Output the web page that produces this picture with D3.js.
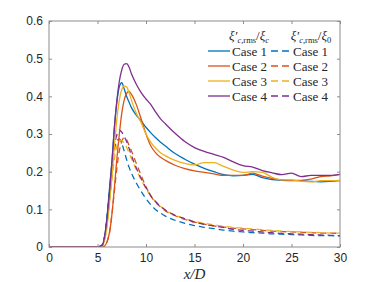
<!DOCTYPE html>
<meta charset="UTF-8">
<style>
  body { margin: 0; background: #fff; }
  .tick text { font: 12px "Liberation Sans", Arial, sans-serif; fill: #262626; }
</style>
<body>
<script src="https://cdn.jsdelivr.net/npm/d3@7"></script>
<script>
// x/D sample positions shared by all curves
var xGrid = [0, 5, 5.5, 5.75, 6, 6.25, 6.5, 6.75, 7, 7.25, 7.5, 7.75, 8, 8.25, 8.5, 9, 9.5, 10, 10.5, 11, 11.5, 12,
  13, 14, 15, 16, 17, 18, 19, 20, 21, 22, 23, 24, 25, 26, 27, 28, 29, 30];

// xi'_c,rms / xi_c  (solid)
var solid1 = [0, 0, 0.005, 0.03, 0.085, 0.16, 0.23, 0.32, 0.385, 0.425, 0.436, 0.42, 0.40, 0.385, 0.37, 0.35, 0.335, 0.318, 0.303, 0.29, 0.278, 0.268,
  0.248, 0.233, 0.22, 0.209, 0.2, 0.192, 0.189, 0.19, 0.193, 0.184, 0.179, 0.177, 0.176, 0.176, 0.174, 0.173, 0.174, 0.176];
var solid2 = [0, 0, 0, 0.003, 0.015, 0.04, 0.09, 0.16, 0.235, 0.30, 0.355, 0.39, 0.408, 0.413, 0.405, 0.378, 0.34, 0.3, 0.268, 0.25, 0.238, 0.23,
  0.217, 0.208, 0.202, 0.198, 0.194, 0.19, 0.19, 0.19, 0.196, 0.188, 0.182, 0.178, 0.177, 0.177, 0.18, 0.187, 0.189, 0.193];
var solid3 = [0, 0, 0.003, 0.02, 0.06, 0.12, 0.19, 0.27, 0.34, 0.39, 0.418, 0.427, 0.425, 0.41, 0.39, 0.355, 0.33, 0.3, 0.278, 0.262, 0.25, 0.242,
  0.23, 0.222, 0.218, 0.224, 0.224, 0.214, 0.204, 0.198, 0.2, 0.198, 0.185, 0.178, 0.178, 0.174, 0.173, 0.176, 0.176, 0.177];
var solid4 = [0, 0, 0.005, 0.03, 0.08, 0.15, 0.23, 0.32, 0.39, 0.44, 0.47, 0.485, 0.487, 0.478, 0.46, 0.432, 0.41, 0.393, 0.378, 0.358, 0.34, 0.327,
  0.302, 0.28, 0.264, 0.254, 0.246, 0.238, 0.226, 0.216, 0.212, 0.203, 0.197, 0.192, 0.196, 0.187, 0.19, 0.19, 0.19, 0.193];

// xi'_c,rms / xi_0  (dashed)
var dashed1 = [0, 0, 0.005, 0.03, 0.085, 0.155, 0.215, 0.26, 0.282, 0.287, 0.275, 0.255, 0.232, 0.212, 0.196, 0.17, 0.148, 0.128, 0.112, 0.099, 0.09, 0.082,
  0.071, 0.063, 0.057, 0.052, 0.049, 0.045, 0.042, 0.04, 0.038, 0.037, 0.035, 0.034, 0.033, 0.032, 0.031, 0.03, 0.03, 0.029];
var dashed2 = [0, 0, 0, 0.003, 0.015, 0.04, 0.09, 0.15, 0.21, 0.255, 0.28, 0.29, 0.285, 0.27, 0.255, 0.222, 0.19, 0.16, 0.135, 0.118, 0.106, 0.096,
  0.083, 0.073, 0.066, 0.061, 0.056, 0.053, 0.05, 0.048, 0.046, 0.044, 0.042, 0.041, 0.04, 0.039, 0.038, 0.037, 0.037, 0.036];
var dashed3 = [0, 0, 0.003, 0.02, 0.06, 0.12, 0.18, 0.235, 0.268, 0.282, 0.283, 0.275, 0.265, 0.25, 0.235, 0.205, 0.178, 0.155, 0.135, 0.12, 0.108, 0.098,
  0.085, 0.075, 0.068, 0.063, 0.059, 0.055, 0.052, 0.05, 0.048, 0.046, 0.044, 0.042, 0.041, 0.04, 0.039, 0.038, 0.037, 0.037];
var dashed4 = [0, 0, 0.005, 0.03, 0.08, 0.15, 0.22, 0.27, 0.298, 0.31, 0.305, 0.293, 0.28, 0.262, 0.243, 0.21, 0.182, 0.157, 0.136, 0.12, 0.108, 0.098,
  0.084, 0.075, 0.066, 0.06, 0.056, 0.052, 0.047, 0.044, 0.042, 0.04, 0.038, 0.036, 0.035, 0.034, 0.033, 0.032, 0.031, 0.03];

var caseNames = ["Case 1", "Case 2", "Case 3", "Case 4"];
var colors = ["#0072BD", "#D95319", "#EDB120", "#7E2F8E"];
var xTicks = [0, 5, 10, 15, 20, 25, 30];
var yTicks = [0, 0.1, 0.2, 0.3, 0.4, 0.5, 0.6];

var solids = [solid1, solid2, solid3, solid4];
var dasheds = [dashed1, dashed2, dashed3, dashed4];

var width = 376, height = 282;
var margin = {top: 21, right: 36, bottom: 35, left: 49};
var serif = "'Liberation Serif', 'Times New Roman', serif";

var svg = d3.select("body").append("svg")
  .attr("width", width)
  .attr("height", height);

var x = d3.scaleLinear().domain([0, 30]).range([margin.left, width - margin.right]);
var y = d3.scaleLinear().domain([0, 0.6]).range([height - margin.bottom, margin.top]);

// clip to plot box
svg.append("clipPath").attr("id", "clip")
  .append("rect")
  .attr("x", x(0)).attr("y", y(0.6))
  .attr("width", x(30) - x(0)).attr("height", y(0) - y(0.6));

var line = d3.line()
  .x(function(d) { return x(d[0]); })
  .y(function(d) { return y(d[1]); })
  .curve(d3.curveMonotoneX);

var plot = svg.append("g").attr("clip-path", "url(#clip)");

// dashed first, then solid on top
dasheds.forEach(function(vals, i) {
  plot.append("path")
    .datum(xGrid.map(function(xv, k) { return [xv, vals[k]]; }))
    .attr("d", line)
    .attr("fill", "none")
    .attr("stroke", colors[i])
    .attr("stroke-width", 1.3)
    .attr("stroke-dasharray", "6,4");
});
solids.forEach(function(vals, i) {
  plot.append("path")
    .datum(xGrid.map(function(xv, k) { return [xv, vals[k]]; }))
    .attr("d", line)
    .attr("fill", "none")
    .attr("stroke", colors[i])
    .attr("stroke-width", 1.3);
});

// axes, ticks pointing inward, mirrored on top/right
var axisColor = "#8c8c8c";
function styleAxis(g) {
  g.selectAll(".domain").remove();
  g.selectAll(".tick line").attr("stroke", axisColor);
}
svg.append("g")
  .attr("transform", "translate(0," + y(0) + ")")
  .call(d3.axisBottom(x).tickValues(xTicks).tickSize(-3).tickPadding(6).tickFormat(d3.format("d")))
  .call(styleAxis);
svg.append("g")
  .attr("transform", "translate(" + x(0) + ",0)")
  .call(d3.axisLeft(y).tickValues(yTicks).tickSize(-3).tickPadding(6).tickFormat(function(d) { return d === 0 ? "0" : d3.format(".1f")(d); }))
  .call(styleAxis);
svg.append("g")
  .attr("transform", "translate(0," + y(0.6) + ")")
  .call(d3.axisTop(x).tickValues(xTicks).tickSize(-3).tickFormat(""))
  .call(styleAxis);
svg.append("g")
  .attr("transform", "translate(" + x(30) + ",0)")
  .call(d3.axisRight(y).tickValues(yTicks).tickSize(-3).tickFormat(""))
  .call(styleAxis);

svg.append("rect")
  .attr("x", x(0)).attr("y", y(0.6))
  .attr("width", x(30) - x(0)).attr("height", y(0) - y(0.6))
  .attr("fill", "none")
  .attr("stroke", axisColor)
  .attr("stroke-width", 1);

// x label
svg.append("text")
  .attr("x", (x(0) + x(30)) / 2)
  .attr("y", 279)
  .attr("text-anchor", "middle")
  .attr("font-family", serif)
  .attr("font-style", "italic")
  .attr("font-size", 15)
  .attr("fill", "#262626")
  .text("x/D");

// legend
var legend = svg.append("g")
  .attr("font-family", serif)
  .attr("font-size", 13)
  .attr("fill", "#262626");

function header(xc, sub) {
  var t = legend.append("text")
    .attr("x", xc).attr("y", 40)
    .attr("text-anchor", "middle");
  t.append("tspan").attr("font-style", "italic").text("ξ′");
  t.append("tspan").attr("dy", 3).attr("font-size", 8.5).attr("font-style", "italic").text("c");
  t.append("tspan").attr("font-size", 8.5).text(",rms");
  t.append("tspan").attr("dy", -3).text("/");
  t.append("tspan").attr("font-style", "italic").text("ξ");
  t.append("tspan").attr("dy", 3).attr("font-size", 8.5).attr("font-style", sub === "c" ? "italic" : "normal").text(sub);
}
header(249, "c");
header(311, "0");

caseNames.forEach(function(name, i) {
  var yy = 51 + i * 15;
  legend.append("line")
    .attr("x1", 208).attr("x2", 230).attr("y1", yy).attr("y2", yy)
    .attr("stroke", colors[i]).attr("stroke-width", 1.3);
  legend.append("text").attr("x", 232).attr("y", yy + 4.5).text(name);
  legend.append("line")
    .attr("x1", 271).attr("x2", 289).attr("y1", yy).attr("y2", yy)
    .attr("stroke", colors[i]).attr("stroke-width", 1.3)
    .attr("stroke-dasharray", "7,4");
  legend.append("text").attr("x", 293).attr("y", yy + 4.5).text(name);
});
</script>
</body>
